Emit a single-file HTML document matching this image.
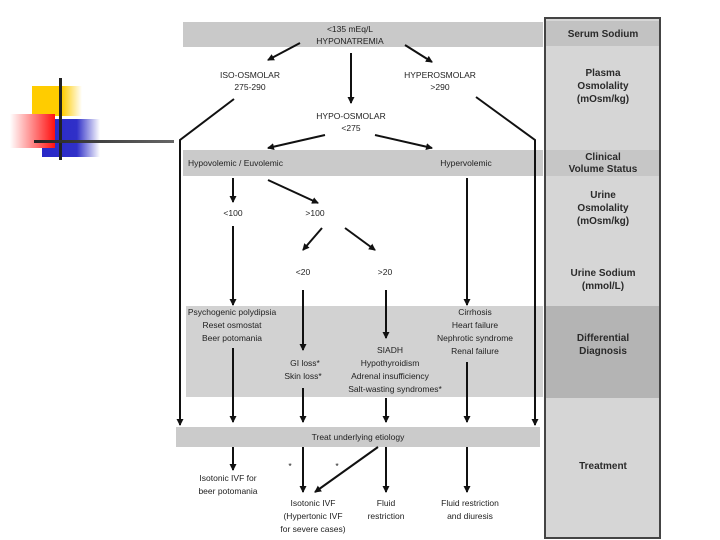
<!DOCTYPE html>
<html><head><meta charset="utf-8"><style>
html,body{margin:0;padding:0;background:#fff;width:720px;height:540px;overflow:hidden}
svg{display:block}
text{font-family:"Liberation Sans",sans-serif;font-size:8.5px;fill:#222}
.r{font-weight:bold;font-size:10px;fill:#2a2a2a}
</style></head><body>
<svg width="720" height="540" viewBox="0 0 720 540" xmlns="http://www.w3.org/2000/svg">
<defs>
<marker id="a" markerWidth="8" markerHeight="8" refX="6" refY="4" orient="auto" markerUnits="userSpaceOnUse"><path d="M0,0.5 L7,4 L0,7.5z" fill="#111"/></marker>
<linearGradient id="gy" x1="0" x2="1"><stop offset="0" stop-color="#ffcc00"/><stop offset="0.6" stop-color="#ffcc00"/><stop offset="1" stop-color="#fff"/></linearGradient>
<linearGradient id="gb" x1="0" x2="1"><stop offset="0" stop-color="#2828c8"/><stop offset="0.6" stop-color="#3030c8"/><stop offset="1" stop-color="#fff"/></linearGradient>
<linearGradient id="gr" x1="1" x2="0"><stop offset="0" stop-color="#ff1010"/><stop offset="1" stop-color="#fff"/></linearGradient>
<linearGradient id="gl" x1="0" x2="1"><stop offset="0" stop-color="#222"/><stop offset="1" stop-color="#666"/></linearGradient>
</defs>
<!-- logo -->
<rect x="32" y="86" width="50" height="30" fill="url(#gy)"/>
<rect x="42" y="119" width="58" height="38" fill="url(#gb)"/>
<rect x="10" y="114" width="45" height="34" fill="url(#gr)"/>
<rect x="59" y="78" width="3" height="82" fill="#222"/>
<rect x="34" y="140" width="140" height="3" fill="url(#gl)"/>
<!-- right panel -->
<rect x="545" y="18" width="115" height="520" fill="#d6d6d6" stroke="#444" stroke-width="2"/>
<rect x="546" y="21" width="113" height="25" fill="#c2c2c2"/>
<rect x="546" y="150" width="113" height="26" fill="#c6c6c6"/>
<rect x="546" y="306" width="113" height="92" fill="#b4b4b4"/>
<g text-anchor="middle">
<text class="r" x="603" y="37">Serum Sodium</text>
<text class="r" x="603" y="76">Plasma</text><text class="r" x="603" y="89">Osmolality</text><text class="r" x="603" y="102">(mOsm/kg)</text>
<text class="r" x="603" y="160">Clinical</text><text class="r" x="603" y="172">Volume Status</text>
<text class="r" x="603" y="198">Urine</text><text class="r" x="603" y="211">Osmolality</text><text class="r" x="603" y="224">(mOsm/kg)</text>
<text class="r" x="603" y="276">Urine Sodium</text><text class="r" x="603" y="289">(mmol/L)</text>
<text class="r" x="603" y="341">Differential</text><text class="r" x="603" y="354">Diagnosis</text>
<text class="r" x="603" y="469">Treatment</text>
</g>
<!-- bands -->
<rect x="183" y="22" width="360" height="25" fill="#c9c9c9"/>
<rect x="183" y="150" width="360" height="26" fill="#cacaca"/>
<rect x="186" y="306" width="357" height="91" fill="#d2d2d2"/>
<rect x="176" y="427" width="364" height="20" fill="#cbcbcb"/>
<!-- text -->
<g text-anchor="middle">
<text x="350" y="32">&lt;135 mEq/L</text><text x="350" y="44">HYPONATREMIA</text>
<text x="250" y="78">ISO-OSMOLAR</text><text x="250" y="90">275-290</text>
<text x="440" y="78">HYPEROSMOLAR</text><text x="440" y="90">&gt;290</text>
<text x="351" y="119">HYPO-OSMOLAR</text><text x="351" y="131">&lt;275</text>
<text x="466" y="166">Hypervolemic</text>
<text x="233" y="216">&lt;100</text><text x="315" y="216">&gt;100</text>
<text x="303" y="275">&lt;20</text><text x="385" y="275">&gt;20</text>
<text x="232" y="315">Psychogenic polydipsia</text><text x="232" y="328">Reset osmostat</text><text x="232" y="341">Beer potomania</text>
<text x="475" y="315">Cirrhosis</text><text x="475" y="328">Heart failure</text><text x="475" y="341">Nephrotic syndrome</text><text x="475" y="354">Renal failure</text>
<text x="390" y="353">SIADH</text><text x="390" y="366">Hypothyroidism</text><text x="390" y="379">Adrenal insufficiency</text><text x="395" y="392">Salt-wasting syndromes*</text>
<text x="305" y="366">GI loss*</text><text x="303" y="379">Skin loss*</text>
<text x="358" y="440">Treat underlying etiology</text>
<text x="228" y="481">Isotonic IVF for</text><text x="228" y="494">beer potomania</text>
<text x="313" y="506">Isotonic IVF</text><text x="313" y="519">(Hypertonic IVF</text><text x="313" y="532">for severe cases)</text>
<text x="386" y="506">Fluid</text><text x="386" y="519">restriction</text>
<text x="470" y="506">Fluid restriction</text><text x="470" y="519">and diuresis</text>
<text x="290" y="469">*</text><text x="337" y="469">*</text>
</g>
<text x="188" y="166">Hypovolemic / Euvolemic</text>
<!-- arrows -->
<g stroke="#111" stroke-width="2" fill="none" marker-end="url(#a)">
<line x1="300" y1="43" x2="268" y2="60"/>
<line x1="351" y1="53" x2="351" y2="103"/>
<line x1="405" y1="45" x2="432" y2="62"/>
<polyline points="234,99 180,140 180,425"/>
<polyline points="476,97 535,140 535,425"/>
<line x1="325" y1="135" x2="268" y2="148"/>
<line x1="375" y1="135" x2="432" y2="148"/>
<line x1="233" y1="178" x2="233" y2="202"/>
<line x1="268" y1="180" x2="318" y2="203"/>
<line x1="322" y1="228" x2="303" y2="250"/>
<line x1="345" y1="228" x2="375" y2="250"/>
<line x1="233" y1="226" x2="233" y2="305"/>
<line x1="303" y1="290" x2="303" y2="350"/>
<line x1="386" y1="290" x2="386" y2="338"/>
<line x1="467" y1="178" x2="467" y2="305"/>
<line x1="233" y1="348" x2="233" y2="422"/>
<line x1="303" y1="388" x2="303" y2="422"/>
<line x1="386" y1="398" x2="386" y2="422"/>
<line x1="467" y1="362" x2="467" y2="422"/>
<line x1="233" y1="447" x2="233" y2="470"/>
<line x1="303" y1="447" x2="303" y2="492"/>
<line x1="386" y1="447" x2="386" y2="492"/>
<line x1="467" y1="447" x2="467" y2="492"/>
<line x1="378" y1="447" x2="315" y2="492"/>
</g>
</svg>
</body></html>
